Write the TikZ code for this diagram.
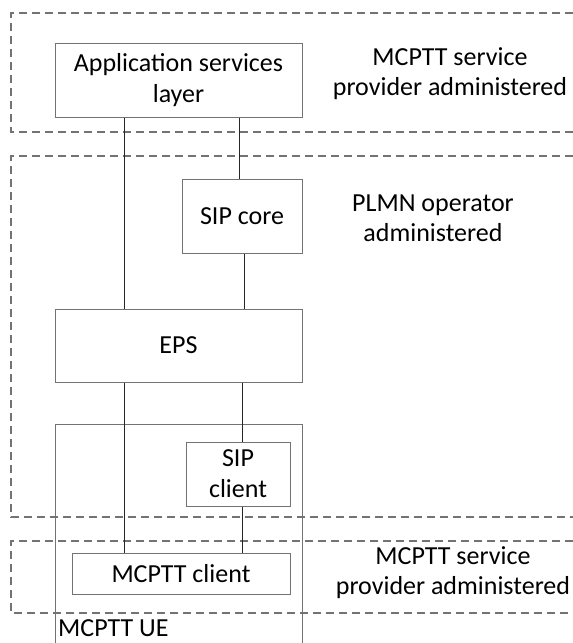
\documentclass[tikz,border=0pt]{standalone}
\usepackage{fontspec}
\setmainfont{Carlito}
\begin{document}
\begin{tikzpicture}[x=1pt,y=-1pt,
  box/.style={draw=black!55,line width=1pt,inner sep=0pt,align=center,font=\fontsize{26}{31}\selectfont},
  region/.style={draw=black!55,line width=1.3pt,dash pattern=on 8pt off 5pt},
  link/.style={draw=black!85,line width=1pt},
  lbl/.style={align=center,font=\fontsize{26}{30}\selectfont,inner sep=0pt}]
\useasboundingbox (0,0) rectangle (573,643);
% regions
\draw[region] (573,13) -- (11,13) -- (11,132) -- (573,132);
\draw[region] (573,156) -- (11,156) -- (11,517) -- (573,517);
\draw[region] (573,541) -- (11,541) -- (11,613) -- (573,613);
% UE container
\draw[draw=black!55,line width=1pt] (55,650) -- (55,424) -- (302,424) -- (302,650);
\node[lbl,anchor=west] (ue) at (58,628) {MCPTT UE};
% boxes
\node[box,minimum width=247pt,minimum height=74pt] (app) at (178.5,80) {Application services\\layer};
\node[box,minimum width=120pt,minimum height=74pt] (sipcore) at (242,216) {SIP core};
\node[box,minimum width=247pt,minimum height=73pt] (eps) at (178.5,345.5) {EPS};
\node[box,minimum width=104pt,minimum height=64pt] (sipclient) at (238,474) {SIP\\client};
\node[box,minimum width=218pt,minimum height=41pt] (mcptt) at (181,573.5) {MCPTT client};
% labels
\node[lbl] (l1) at (450,74) {MCPTT service\\provider administered};
\node[lbl] (l2) at (433,218) {PLMN operator\\administered};
\node[lbl] (l3) at (453,573) {MCPTT service\\provider administered};
% connectors
\coordinate (xa) at (124,0);
\coordinate (xb) at (239,0);
\coordinate (xc) at (244,0);
\coordinate (xd) at (242,0);
\draw[link] (app.south -| xa) -- (eps.north -| xa);
\draw[link] (app.south -| xb) -- (sipcore.north -| xb);
\draw[link] (sipcore.south -| xc) -- (eps.north -| xc);
\draw[link] (eps.south -| xa) -- (mcptt.north -| xa);
\draw[link] (eps.south -| xd) -- (sipclient.north -| xd);
\draw[link] (sipclient.south -| xd) -- (mcptt.north -| xd);
\end{tikzpicture}
\end{document}
